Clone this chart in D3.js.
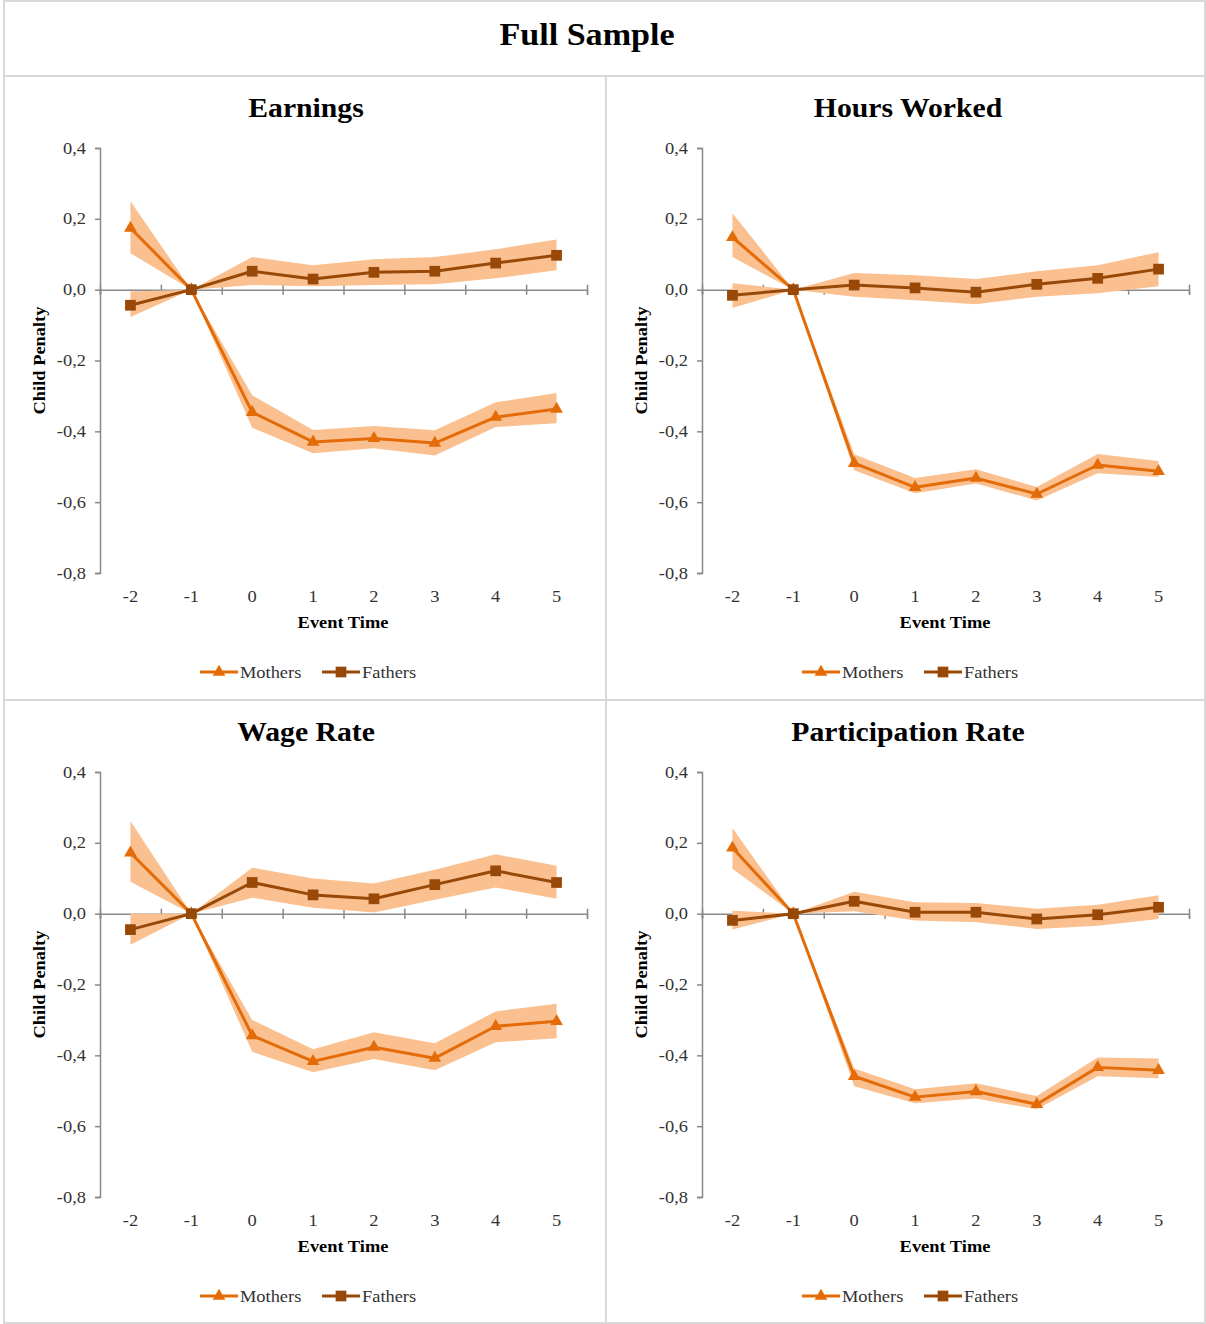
<!DOCTYPE html>
<html><head><meta charset="utf-8">
<script src="https://cdn.jsdelivr.net/npm/d3@7"></script>
<style>
body{margin:0;background:#fff}
text{font-family:"Liberation Serif","Times New Roman",serif}
</style>
</head><body><svg id="chart" width="1206" height="1324"></svg>
<script>
// Event time categories and y-axis ticks
const eventTimes = [-2, -1, 0, 1, 2, 3, 4, 5];
const yTickValues = [0.4, 0.2, 0, -0.2, -0.4, -0.6, -0.8];
const panelTitles = ["Earnings", "Hours Worked", "Wage Rate", "Participation Rate"];
const seriesNames = ["Mothers", "Fathers"];

// Earnings: estimates and 95% bands
const earningsMothers   = [0.174, 0, -0.346, -0.430, -0.420, -0.433, -0.360, -0.337];
const earningsMothersLo = [0.103, 0, -0.390, -0.462, -0.448, -0.468, -0.388, -0.377];
const earningsMothersHi = [0.250, 0, -0.298, -0.396, -0.385, -0.397, -0.318, -0.292];
const earningsFathers   = [-0.044, 0, 0.052, 0.030, 0.049, 0.052, 0.075, 0.097];
const earningsFathersLo = [-0.077, 0, 0.013, 0.010, 0.013, 0.015, 0.032, 0.055];
const earningsFathersHi = [-0.005, 0, 0.092, 0.069, 0.086, 0.092, 0.114, 0.142];

// Hours worked
const hoursMothers   = [0.148, 0, -0.490, -0.558, -0.532, -0.577, -0.495, -0.513];
const hoursMothersLo = [0.092, 0, -0.510, -0.575, -0.547, -0.595, -0.518, -0.529];
const hoursMothersHi = [0.216, 0, -0.465, -0.532, -0.507, -0.557, -0.464, -0.484];
const hoursFathers   = [-0.016, 0, 0.013, 0.005, -0.007, 0.015, 0.032, 0.058];
const hoursFathersLo = [-0.052, 0, -0.020, -0.030, -0.041, -0.020, -0.010, 0.010];
const hoursFathersHi = [0.018, 0, 0.047, 0.041, 0.030, 0.052, 0.069, 0.106];

// Wage rate
const wageMothers   = [0.172, 0, -0.344, -0.417, -0.377, -0.408, -0.318, -0.304];
const wageMothersLo = [0.090, 0, -0.390, -0.448, -0.410, -0.442, -0.363, -0.352];
const wageMothersHi = [0.262, 0, -0.300, -0.383, -0.335, -0.366, -0.276, -0.254];
const wageFathers   = [-0.045, 0, 0.088, 0.053, 0.042, 0.082, 0.121, 0.088];
const wageFathersLo = [-0.088, 0, 0.045, 0.017, 0.003, 0.039, 0.074, 0.042];
const wageFathersHi = [0.000, 0, 0.130, 0.099, 0.085, 0.124, 0.168, 0.135];

// Participation rate
const partMothers   = [0.186, 0, -0.459, -0.518, -0.502, -0.538, -0.434, -0.442];
const partMothersLo = [0.127, 0, -0.487, -0.535, -0.522, -0.552, -0.459, -0.465];
const partMothersHi = [0.242, 0, -0.437, -0.496, -0.479, -0.515, -0.406, -0.409];
const partFathers   = [-0.019, 0, 0.035, 0.004, 0.004, -0.015, -0.003, 0.018];
const partFathersLo = [-0.045, 0, 0.007, -0.019, -0.024, -0.043, -0.034, -0.015];
const partFathersHi = [0.008, 0, 0.062, 0.032, 0.030, 0.014, 0.025, 0.052];

const panels = [
  {title: panelTitles[0], m: [earningsMothers, earningsMothersLo, earningsMothersHi], f: [earningsFathers, earningsFathersLo, earningsFathersHi]},
  {title: panelTitles[1], m: [hoursMothers, hoursMothersLo, hoursMothersHi], f: [hoursFathers, hoursFathersLo, hoursFathersHi]},
  {title: panelTitles[2], m: [wageMothers, wageMothersLo, wageMothersHi], f: [wageFathers, wageFathersLo, wageFathersHi]},
  {title: panelTitles[3], m: [partMothers, partMothersLo, partMothersHi], f: [partFathers, partFathersLo, partFathersHi]}
];

const COL_M = "#E36C09", COL_F = "#984807", COL_BAND = "#FAC090", COL_AXIS = "#898989";
const SX = 1.15;   // horizontal stretch of the serif labels
const svg = d3.select("#chart");

// text helper: positioned by transform so it can be widened slightly
function label(parent, x, y, str, o = {}) {
  const rot = o.rotate ? ` rotate(${o.rotate})` : "";
  return parent.append("text")
    .attr("transform", `translate(${x},${y})${rot} scale(${o.sx || SX},1)`)
    .attr("text-anchor", o.anchor || "middle")
    .attr("font-size", o.size || 16)
    .attr("font-weight", o.bold ? "bold" : "normal")
    .attr("fill", o.fill || "#000")
    .text(str);
}

// Frame and dividers
const frame = svg.append("g").attr("fill", "none").attr("stroke", "#d9d9d9").attr("stroke-width", 2);
frame.append("rect").attr("x", 4).attr("y", 1).attr("width", 1201).attr("height", 1322);
frame.append("line").attr("x1", 4).attr("x2", 1205).attr("y1", 76).attr("y2", 76);
frame.append("line").attr("x1", 4).attr("x2", 1205).attr("y1", 700).attr("y2", 700);
frame.append("line").attr("x1", 606).attr("x2", 606).attr("y1", 76).attr("y2", 1323);

label(svg, 587, 45, "Full Sample", {size: 31, bold: true, sx: 1.1});

const fmt = d => d3.format(".1f")(d).replace(".", ",").replace("\u2212", "-");
const tri = d3.symbol().type(d3.symbolTriangle).size(70);
const sq = d3.symbol().type(d3.symbolSquare).size(115);

panels.forEach((p, i) => {
  const ox = (i % 2) * 602, oy = Math.floor(i / 2) * 624;
  const g = svg.append("g").attr("transform", `translate(${ox},${oy})`);
  const left = 100, right = 587, top = 148, bottom = 573;

  const x = d3.scaleBand().domain(eventTimes).range([left, right]).padding(0);
  const cx = d => x(d) + x.bandwidth() / 2;
  const y = d3.scaleLinear().domain([-0.8, 0.4]).range([bottom, top]);

  label(g, 306, 117, p.title, {size: 27, bold: true, sx: 1.1});

  // y axis
  const ya = g.append("g").attr("transform", `translate(${left},0)`)
    .call(d3.axisLeft(y).tickValues(yTickValues).tickSize(5).tickPadding(9).tickFormat(fmt));
  ya.select(".domain").attr("stroke", COL_AXIS).attr("stroke-width", 1.5);
  ya.selectAll(".tick line").attr("stroke", COL_AXIS).attr("stroke-width", 1.5);
  ya.selectAll(".tick text").attr("font-size", 16).attr("fill", "#333")
    .attr("font-family", "Liberation Serif, serif")
    .attr("x", 0).attr("transform", `translate(-14,0) scale(${SX},1)`);

  // x axis at zero, with cross ticks at category boundaries
  const xb = d3.scaleLinear().domain([0, eventTimes.length]).range([left, right]);
  const xa = g.append("g").attr("transform", `translate(0,${y(0)})`)
    .call(d3.axisBottom(xb).tickValues(d3.range(eventTimes.length + 1)).tickSizeOuter(0).tickSize(5).tickFormat(""));
  xa.select(".domain").attr("stroke", COL_AXIS).attr("stroke-width", 1.5);
  xa.selectAll(".tick line").attr("y1", -5).attr("stroke", COL_AXIS).attr("stroke-width", 1.5);

  // category labels below plot area
  eventTimes.forEach(d => label(g, cx(d), 602, String(d), {fill: "#333"}));

  label(g, 343, 628, "Event Time", {bold: true});
  label(g, 45, (top + bottom) / 2, "Child Penalty", {bold: true, rotate: -90});

  // confidence bands
  const area = d3.area().x((d, j) => cx(eventTimes[j])).y0(d => y(d[0])).y1(d => y(d[1]));
  [p.m, p.f].forEach(s => {
    const pts = s[1].map((lo, j) => [lo, s[2][j]]);
    g.append("path").datum(pts).attr("d", area).attr("fill", COL_BAND);
  });

  // estimate lines and markers
  const line = d3.line().x((d, j) => cx(eventTimes[j])).y(d => y(d));
  [[p.m[0], COL_M, tri], [p.f[0], COL_F, sq]].forEach(([vals, col, sym]) => {
    g.append("path").datum(vals).attr("d", line).attr("fill", "none")
      .attr("stroke", col).attr("stroke-width", 3).attr("stroke-linejoin", "round");
    g.append("g").selectAll("path").data(vals).join("path")
      .attr("transform", (d, j) => `translate(${cx(eventTimes[j])},${y(d)})`)
      .attr("d", sym).attr("fill", col);
  });

  // legend
  const leg = g.append("g").attr("transform", "translate(0,672)");
  [[seriesNames[0], COL_M, tri, 200], [seriesNames[1], COL_F, sq, 322]].forEach(([name, col, sym, lx]) => {
    leg.append("line").attr("x1", lx).attr("x2", lx + 38).attr("y1", 0).attr("y2", 0)
      .attr("stroke", col).attr("stroke-width", 3);
    leg.append("path").attr("transform", `translate(${lx + 19},0)`).attr("d", sym).attr("fill", col);
    label(leg, lx + 40, 6, name, {anchor: "start", fill: "#333"});
  });
});
</script></body></html>
